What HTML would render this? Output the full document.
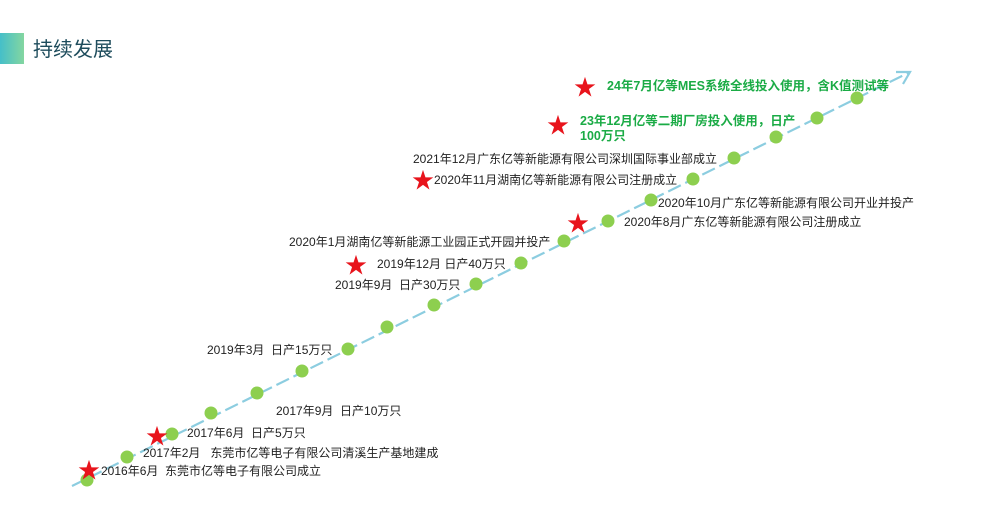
<!DOCTYPE html>
<html><head><meta charset="utf-8"><style>
body{margin:0;background:#fff;}
svg{display:block;font-family:"Liberation Sans","Noto Sans CJK SC",sans-serif;}
</style></head><body>
<svg width="1000" height="512" viewBox="0 0 1000 512" xmlns="http://www.w3.org/2000/svg">
<defs>
<linearGradient id="g" x1="0" x2="1" y1="0" y2="0"><stop offset="0" stop-color="#45bfc9"/><stop offset="1" stop-color="#84d6a0"/></linearGradient>
</defs>
<rect x="0" y="33" width="24" height="31" fill="url(#g)"/>
<text x="33" y="56" font-size="20" fill="#1e4c5c">持续发展</text>
<line x1="72" y1="486" x2="908" y2="73" stroke="#8ccde0" stroke-width="2.2" stroke-dasharray="14 5"/>
<polyline points="896,72 910,72 903,84" fill="none" stroke="#8ccde0" stroke-width="2.2"/>
<g fill="#8dcf4f">
<circle cx="87" cy="480" r="6.5"/><circle cx="127" cy="457" r="6.5"/><circle cx="172" cy="434" r="6.5"/>
<circle cx="211" cy="413" r="6.5"/><circle cx="257" cy="393" r="6.5"/><circle cx="302" cy="371" r="6.5"/>
<circle cx="348" cy="349" r="6.5"/><circle cx="387" cy="327" r="6.5"/><circle cx="434" cy="305" r="6.5"/>
<circle cx="476" cy="284" r="6.5"/><circle cx="521" cy="263" r="6.5"/><circle cx="564" cy="241" r="6.5"/>
<circle cx="608" cy="221" r="6.5"/><circle cx="651" cy="200" r="6.5"/><circle cx="693" cy="179" r="6.5"/>
<circle cx="734" cy="158" r="6.5"/><circle cx="776" cy="137" r="6.5"/><circle cx="817" cy="118" r="6.5"/>
<circle cx="857" cy="98" r="6.5"/>
</g>
<g fill="#e8141c" font-size="22" text-anchor="middle">
<text x="89" y="478">★</text><text x="157" y="444">★</text><text x="356" y="273">★</text>
<text x="578" y="231">★</text><text x="423" y="188">★</text><text x="558" y="133">★</text><text x="585" y="95">★</text>
</g>
<g font-size="12" fill="#222">
<text x="101" y="475" xml:space="preserve">2016年6月  东莞市亿等电子有限公司成立</text>
<text x="143" y="457" xml:space="preserve">2017年2月   东莞市亿等电子有限公司清溪生产基地建成</text>
<text x="187" y="437" xml:space="preserve">2017年6月  日产5万只</text>
<text x="276" y="415" xml:space="preserve">2017年9月  日产10万只</text>
<text x="207" y="354" xml:space="preserve">2019年3月  日产15万只</text>
<text x="335" y="289" xml:space="preserve">2019年9月  日产30万只</text>
<text x="377" y="268" xml:space="preserve">2019年12月 日产40万只</text>
<text x="289" y="246">2020年1月湖南亿等新能源工业园正式开园并投产</text>
<text x="624" y="226">2020年8月广东亿等新能源有限公司注册成立</text>
<text x="658" y="207">2020年10月广东亿等新能源有限公司开业并投产</text>
<text x="434" y="184">2020年11月湖南亿等新能源有限公司注册成立</text>
<text x="413" y="163">2021年12月广东亿等新能源有限公司深圳国际事业部成立</text>
</g>
<g font-size="12.5" font-weight="bold" fill="#1aab45">
<text x="580" y="125">23年12月亿等二期厂房投入使用，日产</text>
<text x="580" y="140">100万只</text>
<text x="607" y="90">24年7月亿等MES系统全线投入使用，含K值测试等</text>
</g>
</svg>
</body></html>
